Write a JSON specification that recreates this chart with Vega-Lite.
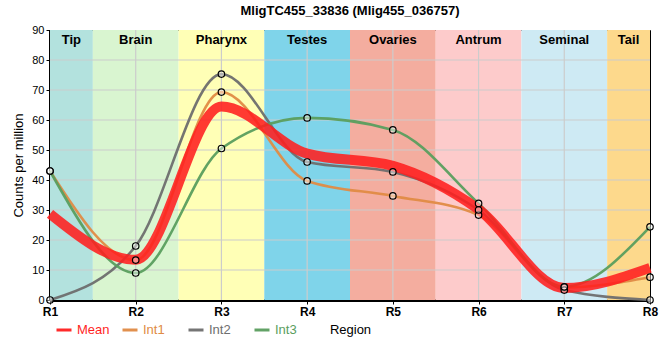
{
  "$schema": "https://vega.github.io/schema/vega-lite/v6.json",
  "width": 600,
  "height": 270,
  "autosize": {"type": "none"},
  "padding": {"left": 50, "top": 30, "right": 10, "bottom": 60},
  "background": "white",
  "title": {"text": "MligTC455_33836 (Mlig455_036757)", "font": "Liberation Sans", "fontSize": 13, "fontWeight": "bold", "color": "#000", "offset": 6, "anchor": "middle"},
  "config": {
    "view": {"stroke": "#000", "strokeWidth": 1},
    "font": "Liberation Sans"
  },
  "datasets": {
    "bands": [
      {"band": "Tip", "start": 1, "end": 1.5, "mid": 1.25},
      {"band": "Brain", "start": 1.5, "end": 2.5, "mid": 2},
      {"band": "Pharynx", "start": 2.5, "end": 3.5, "mid": 3},
      {"band": "Testes", "start": 3.5, "end": 4.5, "mid": 4},
      {"band": "Ovaries", "start": 4.5, "end": 5.5, "mid": 5},
      {"band": "Antrum", "start": 5.5, "end": 6.5, "mid": 6},
      {"band": "Seminal", "start": 6.5, "end": 7.5, "mid": 7},
      {"band": "Tail", "start": 7.5, "end": 8, "mid": 7.75}
    ],
    "xgrid": [{"r": 2}, {"r": 3}, {"r": 4}, {"r": 5}, {"r": 6}, {"r": 7}],
    "ygrid": [{"v": 10}, {"v": 20}, {"v": 30}, {"v": 40}, {"v": 50}, {"v": 60}, {"v": 70}, {"v": 80}],
    "series": [
      {"r": 1, "series": "Mean", "value": 28.7},
      {"r": 2, "series": "Mean", "value": 13.4},
      {"r": 3, "series": "Mean", "value": 64.5},
      {"r": 4, "series": "Mean", "value": 48.8},
      {"r": 5, "series": "Mean", "value": 44.7},
      {"r": 6, "series": "Mean", "value": 30.2},
      {"r": 7, "series": "Mean", "value": 4.0},
      {"r": 8, "series": "Mean", "value": 10.7},
      {"r": 1, "series": "Int1", "value": 43.0},
      {"r": 2, "series": "Int1", "value": 13.3},
      {"r": 3, "series": "Int1", "value": 69.3},
      {"r": 4, "series": "Int1", "value": 39.7},
      {"r": 5, "series": "Int1", "value": 34.7},
      {"r": 6, "series": "Int1", "value": 28.3},
      {"r": 7, "series": "Int1", "value": 4.2},
      {"r": 8, "series": "Int1", "value": 7.6},
      {"r": 1, "series": "Int2", "value": 0.0},
      {"r": 2, "series": "Int2", "value": 18.0},
      {"r": 3, "series": "Int2", "value": 75.3},
      {"r": 4, "series": "Int2", "value": 46.0},
      {"r": 5, "series": "Int2", "value": 42.7},
      {"r": 6, "series": "Int2", "value": 30.0},
      {"r": 7, "series": "Int2", "value": 3.3},
      {"r": 8, "series": "Int2", "value": 0.0},
      {"r": 1, "series": "Int3", "value": 43.0},
      {"r": 2, "series": "Int3", "value": 9.0},
      {"r": 3, "series": "Int3", "value": 50.5},
      {"r": 4, "series": "Int3", "value": 60.7},
      {"r": 5, "series": "Int3", "value": 56.7},
      {"r": 6, "series": "Int3", "value": 32.2},
      {"r": 7, "series": "Int3", "value": 4.4},
      {"r": 8, "series": "Int3", "value": 24.4}
    ]
  },
  "layer": [
    {
      "data": {"name": "bands"},
      "mark": {"type": "rect"},
      "encoding": {
        "x": {"field": "start", "type": "quantitative", "scale": {"domain": [1, 8], "nice": false, "zero": false},
          "axis": {"title": "Region", "values": [1,2,3,4,5,6,7,8], "labelExpr": "'R' + datum.value", "grid": false,
            "domainColor": "#000", "domainWidth": 3, "tickColor": "#000", "tickSize": 4, "labelFontSize": 12, "labelFontWeight": "bold", "labelColor": "#000", "labelPadding": 2, "labelFlush": false,
            "titleFontSize": 13, "titleFontWeight": "normal", "titleColor": "#000", "titlePadding": 6}},
        "x2": {"field": "end"},
        "y": {"datum": 0, "type": "quantitative", "scale": {"domain": [0, 90], "nice": false}},
        "y2": {"datum": 90},
        "fill": {"field": "band", "type": "nominal", "legend": null,
          "scale": {"domain": ["Tip", "Brain", "Pharynx", "Testes", "Ovaries", "Antrum", "Seminal", "Tail"],
                    "range": ["#b3e2de", "#d9f5d0", "#ffffb6", "#7fd4ea", "#f4ad9f", "#fdcbcb", "#ceeaf4", "#fdd98c"]}}
      }
    },
    {
      "data": {"name": "xgrid"},
      "mark": {"type": "rule", "color": "#cccccc", "strokeWidth": 1.2},
      "encoding": {
        "x": {"field": "r", "type": "quantitative"}
      }
    },
    {
      "data": {"name": "ygrid"},
      "mark": {"type": "rule", "color": "#cccccc", "strokeWidth": 1.2},
      "encoding": {
        "y": {"field": "v", "type": "quantitative",
          "axis": {"title": "Counts per million", "values": [0,10,20,30,40,50,60,70,80,90], "tickCount": 10, "labelOverlap": false, "grid": false,
            "domainColor": "#000", "domainWidth": 3, "tickColor": "#000", "tickSize": 4, "labelFontSize": 11, "labelColor": "#000", "labelPadding": 2, "labelFlush": false,
            "titleFontSize": 13, "titleFontWeight": "normal", "titleColor": "#000", "titlePadding": 6}}
      }
    },
    {
      "data": {"name": "bands"},
      "mark": {"type": "text", "baseline": "top", "dy": 4, "fontSize": 13, "fontWeight": "bold", "color": "#000"},
      "encoding": {
        "x": {"field": "mid", "type": "quantitative"},
        "y": {"datum": 90, "type": "quantitative"},
        "text": {"field": "band"}
      }
    },
    {
      "data": {"name": "series"},
      "transform": [{"filter": "datum.series != 'Mean'"}],
      "mark": {"type": "line", "interpolate": "monotone", "strokeWidth": 2.6, "opacity": 0.95},
      "encoding": {
        "x": {"field": "r", "type": "quantitative"},
        "y": {"field": "value", "type": "quantitative"},
        "color": {"field": "series", "type": "nominal",
          "scale": {"domain": ["Mean", "Int1", "Int2", "Int3"], "range": ["#ff1f1f", "#e08b45", "#6e6e6e", "#5a9e5e"]},
          "legend": {"orient": "none", "legendX": 5, "legendY": 291, "direction": "horizontal", "columns": 4, "gridAlign": "all", "columnPadding": 6,
            "title": null, "symbolType": "stroke", "symbolSize": 225, "symbolStrokeWidth": 3, "labelFontSize": 13, "labelFont": "Liberation Sans",
            "labelOffset": 4,
            "labelColor": {"expr": "scale('color', datum.value)"},
            "encode": {
              "symbols": {"update": {"strokeWidth": {"signal": "datum.value == 'Mean' ? 10 : 3"}, "strokeCap": {"value": "butt"}, "opacity": {"value": 0.9}}}
            }}},
        "order": {"field": "r"}
      }
    },
    {
      "data": {"name": "series"},
      "transform": [{"filter": "datum.series == 'Mean'"}],
      "mark": {"type": "line", "interpolate": "monotone", "strokeWidth": 10, "opacity": 0.88},
      "encoding": {
        "x": {"field": "r", "type": "quantitative"},
        "y": {"field": "value", "type": "quantitative"},
        "color": {"field": "series", "type": "nominal"},
        "order": {"field": "r"}
      }
    },
    {
      "data": {"name": "series"},
      "transform": [{"filter": "datum.series != 'Mean'"}],
      "mark": {"type": "point", "shape": "circle", "filled": false, "fill": "#ffffff", "fillOpacity": 0.45, "stroke": "#000", "strokeWidth": 1.2, "size": 42, "opacity": 1},
      "encoding": {
        "x": {"field": "r", "type": "quantitative"},
        "y": {"field": "value", "type": "quantitative"}
      }
    }
  ]
}
